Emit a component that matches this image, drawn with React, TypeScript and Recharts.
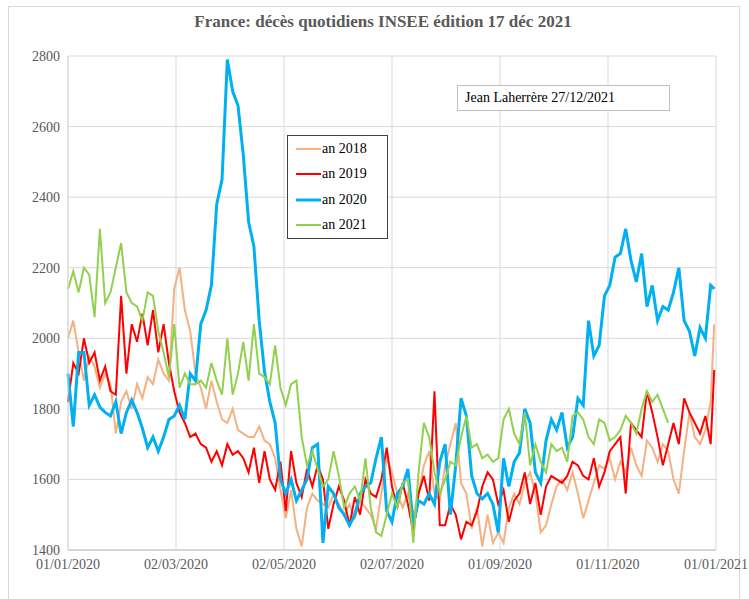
import React from "react";
import {
  LineChart,
  Line,
  XAxis,
  YAxis,
  CartesianGrid,
  Legend,
} from "recharts";

// day offset from 01/01/2020, one reading every 3 days
const days = [
  0, 3, 6, 9, 12, 15, 18, 21, 24, 27,
  30, 33, 36, 39, 42, 45, 48, 51, 54, 57,
  60, 63, 66, 69, 72, 75, 78, 81, 84, 87,
  90, 93, 96, 99, 102, 105, 108, 111, 114, 117,
  120, 123, 126, 129, 132, 135, 138, 141, 144, 147,
  150, 153, 156, 159, 162, 165, 168, 171, 174, 177,
  180, 183, 186, 189, 192, 195, 198, 201, 204, 207,
  210, 213, 216, 219, 222, 225, 228, 231, 234, 237,
  240, 243, 246, 249, 252, 255, 258, 261, 264, 267,
  270, 273, 276, 279, 282, 285, 288, 291, 294, 297,
  300, 303, 306, 309, 312, 315, 318, 321, 324, 327,
  330, 333, 336, 339, 342, 345, 348, 351, 354, 357,
  360, 363, 365,
];

const an2018 = [
  2000, 2050, 1960, 1880, 1950, 1920, 1860, 1900, 1870, 1730,
  1820, 1850, 1800, 1870, 1830, 1890, 1870, 1940, 1900, 1880,
  2140, 2200, 2080, 2020, 1900, 1860, 1800, 1880, 1820, 1770,
  1760, 1800, 1740, 1730, 1720, 1720, 1750, 1710, 1700, 1660,
  1570, 1490, 1570, 1460, 1410, 1520, 1560, 1540, 1530, 1520,
  1560, 1530, 1500, 1530, 1490, 1540, 1520, 1500, 1460, 1560,
  1660, 1620, 1560, 1520, 1560, 1500, 1560, 1640, 1680, 1560,
  1540, 1640, 1700, 1760, 1590, 1560, 1460, 1520, 1410, 1500,
  1420, 1450, 1420, 1520, 1560, 1530, 1590, 1620, 1560, 1450,
  1470, 1530, 1580, 1600, 1570, 1620, 1560, 1490, 1540, 1590,
  1640, 1630, 1660, 1600, 1650, 1620, 1690, 1640, 1610, 1710,
  1690, 1650, 1700, 1680, 1600, 1560, 1680, 1790, 1720, 1700,
  1740, 1820, 2040,
];

const an2019 = [
  1820, 1930, 1900, 2000, 1930, 1960, 1880, 1920, 1850, 1840,
  2120, 1900, 2040, 1990, 2070, 1980, 2080, 1960, 2040, 1930,
  1850, 1790, 1760, 1720, 1730, 1700, 1690, 1650, 1680, 1640,
  1700, 1670, 1680, 1660, 1620, 1690, 1590, 1680, 1600, 1570,
  1650, 1510, 1680, 1590, 1550, 1630, 1580, 1640, 1600, 1460,
  1530, 1580, 1540, 1470, 1550, 1500, 1600, 1560, 1550, 1600,
  1690, 1580, 1520, 1590, 1530, 1450, 1560, 1610, 1540, 1850,
  1470, 1470, 1530, 1500, 1430, 1480, 1470, 1510, 1580, 1620,
  1600, 1530, 1570, 1480, 1540, 1560, 1620, 1530, 1590, 1500,
  1580, 1610, 1600, 1590, 1610, 1650, 1640, 1610, 1600, 1660,
  1580, 1620, 1680, 1700, 1720, 1560, 1760, 1740, 1720, 1850,
  1790, 1720, 1640, 1700, 1760, 1700, 1830, 1790, 1760, 1730,
  1780, 1700, 1910,
];

const an2020 = [
  1900, 1750, 1960, 1960, 1810, 1840, 1805, 1790, 1780, 1820,
  1730, 1790, 1825, 1790, 1745, 1690, 1720, 1680, 1720, 1770,
  1780, 1810, 1770, 1900, 1880, 2040, 2080, 2150, 2380, 2450,
  2790, 2700, 2660, 2520, 2330, 2260, 2050, 1905, 1820, 1760,
  1600, 1560, 1600, 1540, 1570, 1600, 1690, 1700, 1420, 1580,
  1560, 1520, 1500, 1470, 1500, 1560, 1580, 1590, 1660, 1720,
  1510, 1480, 1560, 1580, 1630, 1470, 1540, 1530, 1560, 1530,
  1650, 1700, 1500, 1640, 1830, 1780, 1610, 1560, 1545, 1560,
  1530, 1450, 1660, 1580, 1650, 1675, 1800, 1760, 1620, 1590,
  1710, 1770, 1740, 1790, 1690, 1720, 1830, 1810, 2050, 1950,
  1980, 2120, 2150, 2230, 2240, 2310, 2220, 2160, 2240, 2090,
  2150, 2050, 2090, 2080, 2130, 2200, 2050, 2020, 1950, 2030,
  2000, 2150, 2140,
];

const an2021 = [
  2140, 2190, 2130, 2200, 2180, 2060, 2310, 2100, 2130, 2200,
  2270, 2130, 2100, 2090, 2050, 2130, 2120, 2020, 1960, 1890,
  2040, 1860, 1900, 1870, 1870, 1880, 1860, 1930, 1880, 1840,
  2000, 1840, 1900, 1990, 1880, 2040, 1900, 1890, 1870, 1980,
  1860, 1810, 1870, 1880, 1720, 1640, 1680, 1630, 1580, 1600,
  1680, 1610, 1520, 1560, 1580, 1540, 1660, 1520, 1450, 1440,
  1500, 1560, 1520, 1590, 1600, 1420, 1620, 1760, 1720, 1620,
  1560, 1600, 1650, 1640, 1720, 1780, 1690, 1700, 1660, 1670,
  1650, 1660, 1770, 1800, 1730, 1700, 1790, 1640, 1700, 1650,
  1620, 1700, 1680, 1690, 1650, 1780, 1790, 1770, 1720, 1700,
  1770, 1760, 1710, 1720, 1740, 1780, 1760, 1730, 1800, 1850,
  1820, 1840, 1800, 1760, null, null, null, null, null, null,
  null, null, null,
];

const xTicks = [0, 61, 122, 183, 244, 305, 366];
const xLabels = [
  "01/01/2020",
  "02/03/2020",
  "02/05/2020",
  "02/07/2020",
  "01/09/2020",
  "01/11/2020",
  "01/01/2021",
];
const yTicks = [1400, 1600, 1800, 2000, 2200, 2400, 2600, 2800];

const series = [
  { key: "an2018", name: "an 2018", color: "#F4B183", width: 2 },
  { key: "an2019", name: "an 2019", color: "#FF0000", width: 2 },
  { key: "an2020", name: "an 2020", color: "#00B0F0", width: 3 },
  { key: "an2021", name: "an 2021", color: "#92D050", width: 2 },
];

const data = days.map((d, i) => ({
  day: d,
  an2018: an2018[i],
  an2019: an2019[i],
  an2020: an2020[i],
  an2021: an2021[i],
}));

const serif = '"Liberation Serif", "Times New Roman", serif';

function LegendBox(props: any) {
  const items = props.payload || [];
  return (
    <div
      style={{
        width: 101,
        height: 104,
        border: "1px solid #404040",
        background: "#fff",
        boxSizing: "border-box",
        fontFamily: serif,
        fontSize: 14,
        color: "#000",
      }}
    >
      {items.map((it: any) => {
        const s = series.find((x) => x.name === it.value);
        return (
          <div
            key={it.value}
            style={{ height: 25.5, display: "flex", alignItems: "center" }}
          >
            <svg width={34} height={6} style={{ display: "block" }}>
              <line
                x1={8}
                x2={33}
                y1={3}
                y2={3}
                stroke={it.color}
                strokeWidth={s ? s.width : 2}
              />
            </svg>
            <span>{it.value}</span>
          </div>
        );
      })}
    </div>
  );
}

export default function App() {
  return (
    <div
      style={{
        position: "absolute",
        left: 0,
        top: 0,
        width: 749,
        height: 599,
        background: "#fff",
        overflow: "hidden",
      }}
    >
      <div
        style={{
          position: "absolute",
          left: 8,
          top: 6,
          width: 730,
          height: 620,
          border: "1px solid #d9d9d9",
        }}
      />
      <div
        style={{
          position: "absolute",
          left: 0,
          top: 12,
          width: 766,
          textAlign: "center",
          fontFamily: serif,
          fontWeight: "bold",
          fontSize: 17,
          color: "#595959",
        }}
      >
        France: décès quotidiens INSEE édition 17 déc 2021
      </div>
      <div
        style={{
          position: "absolute",
          left: 457,
          top: 85,
          width: 213,
          height: 26,
          boxSizing: "border-box",
          border: "1px solid #bfbfbf",
          background: "#fff",
          fontFamily: serif,
          fontSize: 14,
          lineHeight: "24px",
          paddingLeft: 7,
          color: "#000",
          zIndex: 2,
        }}
      >
        Jean Laherrère 27/12/2021
      </div>
      <div style={{ position: "absolute", left: 0, top: 0 }}>
        <LineChart
          width={749}
          height={599}
          data={data}
          margin={{ top: 56, right: 33, left: 8, bottom: 19 }}
        >
          <CartesianGrid stroke="#d9d9d9" strokeWidth={1} />
          <XAxis
            type="number"
            dataKey="day"
            domain={[0, 366]}
            ticks={xTicks}
            interval={0}
            height={30}
            tickLine={false}
            axisLine={{ stroke: "#bfbfbf" }}
            tickMargin={3}
            tickFormatter={(v: number) => xLabels[xTicks.indexOf(v)]}
            tick={{ fontFamily: serif, fontSize: 14, fill: "#595959" }}
          />
          <YAxis
            domain={[1400, 2800]}
            ticks={yTicks}
            interval={0}
            width={60}
            tickLine={false}
            axisLine={{ stroke: "#d9d9d9" }}
            tick={{ fontFamily: serif, fontSize: 14, fill: "#595959" }}
          />
          <Legend
            layout="vertical"
            align="center"
            verticalAlign="middle"
            content={<LegendBox />}
            wrapperStyle={{ left: 287, top: 135, width: 101, height: 104 }}
          />
          {series.map((s) => (
            <Line
              key={s.key}
              type="linear"
              dataKey={s.key}
              name={s.name}
              stroke={s.color}
              strokeWidth={s.width}
              dot={false}
              activeDot={false}
              connectNulls={false}
              isAnimationActive={false}
            />
          ))}
        </LineChart>
      </div>
    </div>
  );
}
